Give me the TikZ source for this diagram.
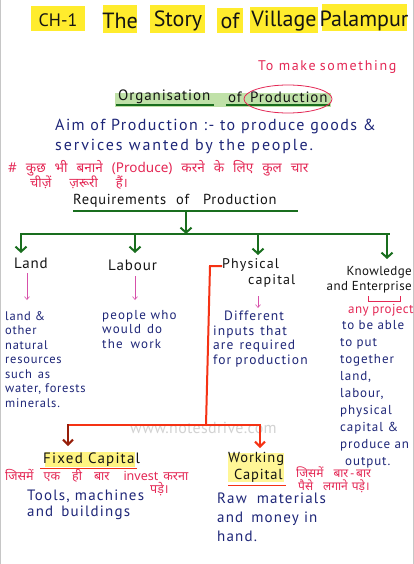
\documentclass[tikz,border=0pt]{standalone}
\usepackage{fontspec}
\setmainfont{PT Sans}
\newfontfamily\hindi[Script=Devanagari]{Noto Sans}
\usetikzlibrary{arrows.meta}
\newcommand\lsp[1]{\addfontfeatures{LetterSpace=#1}}
\newcommand\hs{\hspace{9pt}}
\definecolor{navy}{RGB}{30,38,120}
\definecolor{pinkred}{RGB}{228,40,85}
\definecolor{ink}{RGB}{20,20,20}
\definecolor{grn}{RGB}{25,110,30}
\definecolor{lgrn}{RGB}{150,205,110}
\definecolor{redl}{RGB}{245,50,20}
\definecolor{dred}{RGB}{150,30,10}
\definecolor{hiyel}{RGB}{255,236,45}
\definecolor{magn}{RGB}{215,80,170}
\tikzset{
  txt/.style={inner sep=0pt, anchor=west},
  blk/.style={inner sep=0pt, anchor=north west, align=left},
  titlew/.style={inner sep=0pt, font=\fontsize{22}{24}\selectfont, text=ink},
  hl/.style={fill=hiyel},
  garrow/.style={draw=grn, line width=2pt, -{Straight Barb[length=5pt,width=11pt]}},
  gline/.style={draw=grn, line width=2.6pt},
  parrow/.style={draw=magn, line width=0.6pt, -{Straight Barb[length=3pt,width=5pt]}},
  rline/.style={draw=redl, line width=2pt},
  rarrow/.style={draw=redl, line width=2pt, -{Straight Barb[length=5pt,width=10pt]}},
  orgt/.style={txt, text=ink, font=\fontsize{15}{17}\selectfont\lsp{6}},
}
\begin{document}
\begin{tikzpicture}[x=1pt,y=-1pt]
\useasboundingbox (0,0) rectangle (414,564);
\fill[white] (0,0) rectangle (414,564);
\draw[gray!45, line width=1pt] (0.5,0) -- (0.5,564);
\draw[gray!45, line width=1pt] (413.5,0) -- (413.5,564);

% title highlights
\fill[hl] (31,6) rectangle (85,31);
\fill[hl] (103,5) rectangle (137,33);
\fill[hl] (150,5) rectangle (205,33);
\fill[hl] (217,8) rectangle (243,33);
\fill[hl] (250,7) rectangle (318,33);
\fill[hl] (322,4) rectangle (407,31);
\node[titlew, font=\fontsize{18}{20}\selectfont] (ch) at (58,20) {CH-1};
\node[titlew] (t1) at (120,21) {The};
\node[titlew] (t2) at (178,21) {Story};
\node[titlew] (t3) at (230,21) {of};
\node[titlew] (t4) at (284,21) {Village};
\node[titlew] (t5) at (364,21) {Palampur};

% to make something
\node[txt, text=pinkred, font=\fontsize{14}{16}\selectfont\lsp{12}] (make) at (258,67) {To make\hspace{4pt}something};

% organisation of production
\fill[lgrn!60] (115,93) rectangle (331,107);
\draw[grn, line width=1.6pt] (116,105) -- (214,105);
\draw[grn, line width=1.6pt] (226,105) -- (330,105);
\node[orgt] (org1) at (118,97) {Organisation};
\node[orgt] (org2) at (228,97) {of};
\node[orgt] (org3) at (250,97) {Production};
\draw[pinkred, line width=0.8pt] (288,99) ellipse [x radius=44, y radius=14];

% aim
\node[txt, text=navy, font=\fontsize{16}{18}\selectfont\lsp{9}] (aim1) at (55,127) {Aim of Production :- to produce goods \&};
\node[txt, text=navy, font=\fontsize{16}{18}\selectfont\lsp{12}] (aim2) at (55,146) {services wanted by the people.};

% hindi line
\node[txt, text=pinkred, font=\hindi\fontsize{13.5}{15}\selectfont] (hn1) at (8,168) {\#\hs कुछ\hs भी\hs बनाने\hs (Produce)\hs करने\hs के\hs लिए\hs कुल\hs चार};
\node[txt, text=pinkred, font=\hindi\fontsize{13}{15}\selectfont] (hn2) at (30,183) {चीज़ें\hspace{18pt}ज़रूरी\hspace{18pt}हैं।};

% requirements
\node[txt, text=ink, font=\fontsize{14.5}{16}\selectfont\lsp{5}] (req) at (73,201) {Requirements\hspace{10pt}of\hspace{14pt}Production};
\coordinate (ulA) at (73,211);
\coordinate (ulB) at (298,211);
\coordinate (ulM) at (186,211);
\draw[gline] (ulA) -- (ulB);
\coordinate (barL) at (20,234);
\coordinate (barR) at (390,234);
\coordinate (barM) at (186,234);
\draw[garrow] (ulM) -- (barM);
\draw[gline] (barL) -- (barR);

% four categories
\node[txt, text=ink, font=\fontsize{15}{17}\selectfont\lsp{5}] (land) at (14,263) {Land};
\node[txt, text=ink, font=\fontsize{15}{17}\selectfont\lsp{6}] (labour) at (108,265) {Labour};
\node[blk, text=ink, font=\fontsize{14}{16}\selectfont\lsp{8}] (phys) at (222,258) {Physical\\\hspace{26pt}capital};
\node[inner sep=0pt, anchor=north east, align=right, text=ink, font=\fontsize{13}{15}\selectfont\lsp{3}] (know) at (412,266) {Knowledge\\and Enterprise};
\coordinate (bLand) at (21,234);
\coordinate (bLab) at (135,234);
\coordinate (bPhys) at (258,234);
\coordinate (bKnow) at (387,234);
\draw[garrow] (bLand) -- (21,253);
\draw[garrow] (bLab) -- (135,253);
\draw[garrow] (bPhys) -- (258,255);
\draw[garrow] (bKnow) -- (387,259);

% pink small arrows
\draw[parrow] (27,273) -- (27,300);
\draw[parrow] (135,276) -- (135,300);
\draw[parrow] (258,296) -- (258,308);
\draw[pinkred, line width=0.7pt] (368,296) -- (368,301) -- (400,301) -- (400,296);

% descriptions
\node[blk, text=navy, font=\fontsize{12.5}{14.5}\selectfont\lsp{6}] (landd) at (5,311) {land \&\\other\\natural\\resources\\such\hspace{6pt}as\\water, forests\\minerals.};
\node[blk, text=navy, font=\fontsize{13}{14.5}\selectfont\lsp{9}] (labd) at (102,310) {people who\\would\hspace{6pt}do\\the\hspace{8pt}work};
\node[blk, text=navy, font=\fontsize{13.5}{14.5}\selectfont\lsp{8}] (physd) at (213,311) {\hspace{11pt}Different\\inputs\hspace{6pt}that\\are\hspace{6pt}required\\for\hspace{4pt}production};
\node[txt, text=pinkred, font=\fontsize{13}{15}\selectfont\lsp{3}] (anyp) at (348,310) {any project};
\node[blk, text=navy, font=\fontsize{13}{17}\selectfont\lsp{7}] (knowd) at (340,320) {\hspace{2pt}to be able\\to put\\together\\land,\\labour,\\physical\\capital \&\\produce an\\\hspace{5pt}output.};

% red connectors
\coordinate (rTop) at (222,266);
\coordinate (rCorner) at (210,266);
\coordinate (rBot) at (206,425);
\coordinate (rL) at (68,425);
\coordinate (rR) at (261,425);
\draw[rline] (rTop) -- (rCorner) -- (rBot);
\node[txt, text=gray!35, font=\fontsize{16}{18}\selectfont\lsp{2}] (wm) at (130,428) {www.notesdrive.com};
\draw[rline] (rL) -- (rR);
\draw[rarrow, draw=dred] (68,424) -- (68,446);
\draw[rarrow] (260,424) -- (260,448);

% fixed capital
\fill[hiyel!60] (45,452) rectangle (135,467);
\node[txt, text=ink, font=\fontsize{15}{17}\selectfont\lsp{8}] (fixed) at (43,460) {Fixed Capital};
\draw[redl, line width=0.8pt] (40,468) -- (137,468);
\node[txt, text=pinkred, font=\hindi\fontsize{12.5}{14}\selectfont] (fh1) at (5,476) {जिसमें\hspace{10pt}एक\hspace{12pt}ही\hspace{12pt}बार\hspace{14pt}invest\hspace{5pt}करना};
\node[txt, text=pinkred, font=\hindi\fontsize{12.5}{14}\selectfont] (fh2) at (150,489) {पड़े।};
\node[blk, text=navy, font=\fontsize{15}{15.5}\selectfont\lsp{8}] (fixd) at (27,490) {Tools, machines\\and\hspace{8pt}buildings};

% working capital
\fill[hiyel!50] (228,453) rectangle (284,482);
\node[blk, text=ink, font=\fontsize{14.5}{17}\selectfont\lsp{6}] (work) at (228,452) {Working\\\hspace{6pt}Capital};
\draw[redl, line width=0.8pt] (228,485) -- (286,485);
\node[txt, text=pinkred, font=\hindi\fontsize{12}{14}\selectfont] (wh1) at (296,472) {जिसमें\hspace{10pt}बार\,-\,बार};
\node[txt, text=pinkred, font=\hindi\fontsize{12}{14}\selectfont] (wh2) at (298,486) {पैसे\hspace{10pt}लगाने\hspace{4pt}पड़े।};
\node[blk, text=navy, font=\fontsize{15}{19}\selectfont\lsp{8}] (workd) at (217,493) {Raw\hspace{10pt}materials\\and\hspace{8pt}money in\\hand.};
\end{tikzpicture}
\end{document}
